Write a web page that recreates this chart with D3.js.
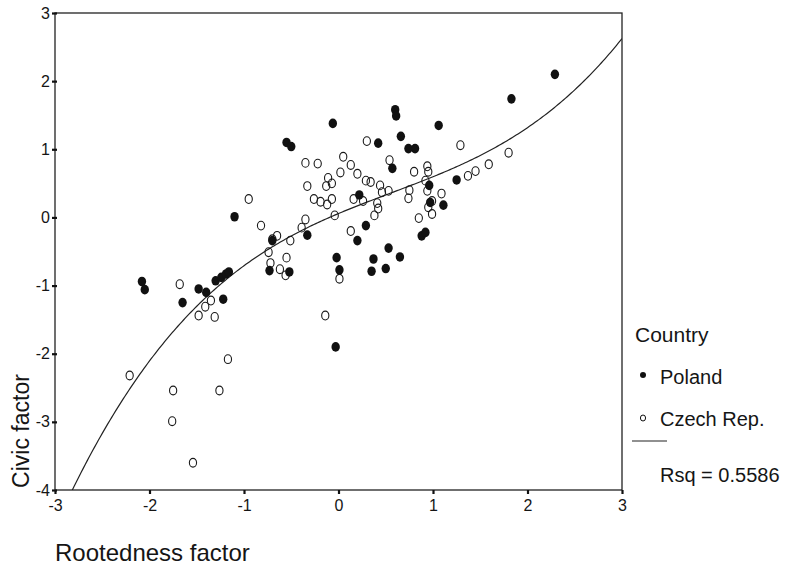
<!DOCTYPE html>
<html>
<head>
<meta charset="utf-8">
<script src="https://cdn.jsdelivr.net/npm/d3@7"></script>
<style>
  body { margin: 0; background: #fff; }
  text { font-family: "Liberation Sans", Arial, sans-serif; fill: #151515; }
</style>
</head>
<body>
<svg id="chart" width="793" height="571"></svg>
<script>
// Rootedness factor (x) / Civic factor (y)
var polandX = [2.29, 1.83, 0.60, 0.61, -0.06, 1.06, 0.66, 0.42, 0.74, 0.81, 0.57, 1.25, 0.96, 0.97, 1.11,
  0.22, 0.29, 0.20, 0.53, 0.88, 0.92, -0.33, -0.02, 0.01, 0.37, 0.35, 0.50, 0.65, -0.03, -0.55, -0.50,
  -1.10, -2.08, -2.05, -1.65, -1.48, -1.40, -1.22, -1.30, -1.24, -1.19, -1.16, -0.73, -0.52, -0.70]
var polandY = [2.10, 1.74, 1.58, 1.49, 1.38, 1.35, 1.19, 1.09, 1.01, 1.01, 0.72, 0.55, 0.47, 0.22, 0.18,
  0.33, -0.12, -0.34, -0.45, -0.27, -0.22, -0.26, -0.59, -0.77, -0.61, -0.79, -0.75, -0.58, -1.90, 1.10, 1.04,
  0.01, -0.94, -1.06, -1.25, -1.05, -1.10, -1.20, -0.93, -0.88, -0.83, -0.80, -0.78, -0.80, -0.34]

var czechX = [-0.95, -0.35, -0.22, -0.33, -0.26, -0.19, -0.12, -0.07, -0.11, -0.07, -0.13, -0.35, -0.39,
  -0.82, -0.65, -0.70, -0.51, -0.74, -0.55, -0.72, -0.62, -0.56, 0.30, 1.29, 1.80, 1.59, 1.45, 1.37, 0.05,
  0.13, 0.02, 0.20, 0.29, 0.34, 0.44, 0.46, 0.53, 0.54, 0.80, 0.94, 0.95, 0.92, 0.94, 1.09, 0.99, 0.95,
  0.99, 0.85, 0.75, 0.74, 0.41, 0.42, 0.38, 0.16, 0.26, -0.04, 0.13, 0.01, -0.14, -1.68, -1.35, -1.41,
  -1.48, -1.31, -1.17, -2.21, -1.75, -1.26, -1.76, -1.54]
var czechY = [0.27, 0.80, 0.79, 0.46, 0.27, 0.23, 0.19, 0.27, 0.58, 0.50, 0.46, -0.03, -0.15,
  -0.12, -0.27, -0.32, -0.34, -0.51, -0.59, -0.67, -0.76, -0.85, 1.12, 1.06, 0.95, 0.78, 0.68, 0.61, 0.89,
  0.77, 0.66, 0.64, 0.54, 0.52, 0.47, 0.37, 0.39, 0.84, 0.67, 0.75, 0.67, 0.54, 0.39, 0.35, 0.24, 0.15,
  0.05, -0.01, 0.40, 0.28, 0.21, 0.13, 0.03, 0.27, 0.24, 0.03, -0.20, -0.90, -1.44, -0.98, -1.22, -1.31,
  -1.44, -1.46, -2.08, -2.32, -2.54, -2.54, -2.99, -3.60]

var xTicks = [-3, -2, -1, 0, 1, 2, 3]
var yTicks = [-4, -3, -2, -1, 0, 1, 2, 3]
var legendNames = ["Poland", "Czech Rep."]
var rsqLabel = "Rsq = 0.5586"

var svg = d3.select("#chart")
var margin = { left: 55, right: 171, top: 13, bottom: 81 },
    w = 793 - margin.left - margin.right,
    h = 571 - margin.top - margin.bottom

var x = d3.scaleLinear().domain([-3, 3]).range([0, w])
var y = d3.scaleLinear().domain([-4, 3]).range([h, 0])

var g = svg.append("g").attr("transform", "translate(" + margin.left + "," + margin.top + ")")

// frame
g.append("rect").attr("width", w).attr("height", h).attr("fill", "none").attr("stroke", "#222").attr("stroke-width", 1.3)

// axes (plain hyphen for negatives, like the original)
var plainFmt = d => String(d)
var xAxis = g.append("g").attr("transform", "translate(0," + h + ")")
    .call(d3.axisBottom(x).tickValues(xTicks).tickFormat(plainFmt).tickSize(4).tickPadding(6))
var yAxis = g.append("g")
    .call(d3.axisLeft(y).tickValues(yTicks).tickFormat(plainFmt).tickSize(3).tickPadding(2))
xAxis.select(".domain").remove()
yAxis.select(".domain").remove()
g.selectAll(".tick line").attr("stroke", "#111").attr("stroke-width", 2.2)
yAxis.selectAll(".tick line").attr("x1", 2)
g.selectAll(".tick text").style("font-size", "16px").attr("fill", "#151515").style("font-family", "Liberation Sans, Arial, sans-serif")
xAxis.selectAll(".tick text").attr("dy", "0.71em")

// cubic least squares fit of all points
var allX = polandX.concat(czechX), allY = polandY.concat(czechY)
function cubicFit(xs, ys) {
  var n = 4, A = [], B = []
  for (var i = 0; i < n; i++) {
    A.push([0, 0, 0, 0]); B.push(0)
    for (var k = 0; k < xs.length; k++) {
      B[i] += Math.pow(xs[k], i) * ys[k]
      for (var j = 0; j < n; j++) A[i][j] += Math.pow(xs[k], i + j)
    }
  }
  for (var c = 0; c < n; c++) {
    for (var r = c + 1; r < n; r++) {
      var f = A[r][c] / A[c][c]
      for (var j = c; j < n; j++) A[r][j] -= f * A[c][j]
      B[r] -= f * B[c]
    }
  }
  var coef = [0, 0, 0, 0]
  for (var r = n - 1; r >= 0; r--) {
    var s = B[r]
    for (var j = r + 1; j < n; j++) s -= A[r][j] * coef[j]
    coef[r] = s / A[r][r]
  }
  return coef
}
var coef = cubicFit(allX, allY)
var fitLine = d3.range(-3, 3.0001, 0.02).map(v => [v, coef[0] + coef[1] * v + coef[2] * v * v + coef[3] * v * v * v])

svg.append("clipPath").attr("id", "plotclip").append("rect").attr("width", w).attr("height", h)
g.append("path").attr("clip-path", "url(#plotclip)")
    .attr("d", d3.line().x(d => x(d[0])).y(d => y(d[1]))(fitLine))
    .attr("fill", "none").attr("stroke", "#222").attr("stroke-width", 1.2)

// points
g.selectAll(".czech").data(czechX.map((v, i) => [v, czechY[i]])).join("ellipse").attr("class", "czech")
    .attr("cx", d => x(d[0])).attr("cy", d => y(d[1])).attr("rx", 3.6).attr("ry", 4.4)
    .attr("fill", "none").attr("stroke", "#1a1a1a").attr("stroke-width", 1.1)
g.selectAll(".poland").data(polandX.map((v, i) => [v, polandY[i]])).join("ellipse").attr("class", "poland")
    .attr("cx", d => x(d[0])).attr("cy", d => y(d[1])).attr("rx", 4.2).attr("ry", 4.8)
    .attr("fill", "#111")

// axis titles
svg.append("text").attr("transform", "translate(29,431) rotate(-90)").attr("text-anchor", "middle")
    .style("font-size", "23px").text("Civic factor")
svg.append("text").attr("x", 55).attr("y", 561).style("font-size", "24px").text("Rootedness factor")

// legend
var lg = svg.append("g")
lg.append("text").attr("x", 635).attr("y", 342).style("font-size", "21px").text("Country")
lg.append("circle").attr("cx", 643).attr("cy", 375).attr("r", 3).attr("fill", "#111")
lg.append("text").attr("x", 660).attr("y", 384).style("font-size", "20px").text(legendNames[0])
lg.append("ellipse").attr("cx", 643).attr("cy", 418).attr("rx", 2.6).attr("ry", 3).attr("fill", "none").attr("stroke", "#111").attr("stroke-width", 1)
lg.append("text").attr("x", 660).attr("y", 426).style("font-size", "20px").text(legendNames[1])
lg.append("line").attr("x1", 632).attr("x2", 667).attr("y1", 441).attr("y2", 441).attr("stroke", "#222").attr("stroke-width", 1.2)
lg.append("text").attr("x", 660).attr("y", 482).style("font-size", "20px").text(rsqLabel)
</script>
</body>
</html>
